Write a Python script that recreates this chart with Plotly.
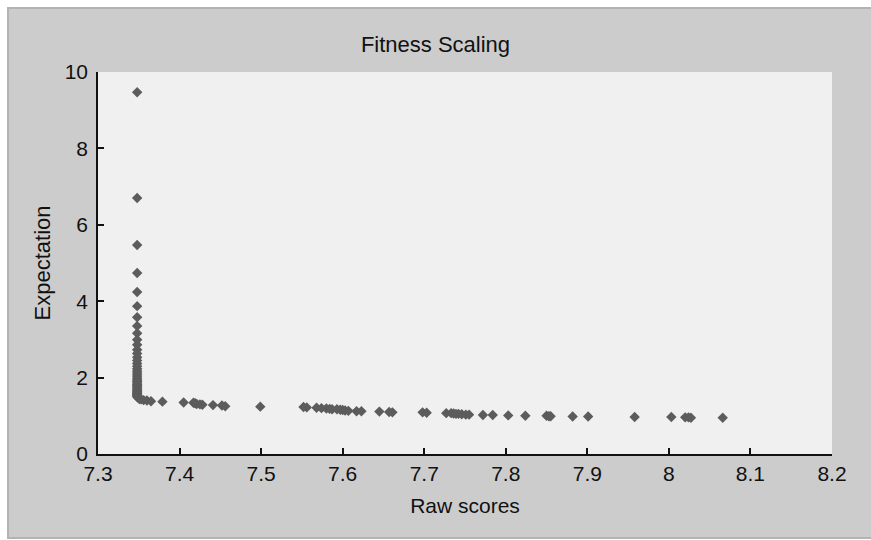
import plotly.graph_objects as go

raw_scores = [
    7.348, 7.348, 7.348, 7.348, 7.348, 7.348, 7.348, 7.348, 7.348, 7.348,
    7.348, 7.348, 7.348, 7.348, 7.348, 7.348, 7.348, 7.348, 7.348, 7.348,
    7.348, 7.348, 7.348, 7.348, 7.348, 7.348, 7.348, 7.348, 7.348, 7.348,
    7.348, 7.348, 7.348, 7.348, 7.348, 7.348, 7.348, 7.348, 7.348, 7.348,
    7.349, 7.350, 7.351, 7.353, 7.356, 7.360, 7.365,
    7.379, 7.405, 7.417, 7.419, 7.421, 7.425, 7.428, 7.441, 7.452, 7.456,
    7.499, 7.552, 7.556, 7.568, 7.574, 7.580, 7.584, 7.587, 7.593, 7.597,
    7.600, 7.603, 7.607, 7.617, 7.623, 7.645, 7.657, 7.661, 7.698, 7.703,
    7.727, 7.733, 7.736, 7.739, 7.742, 7.746, 7.751, 7.755, 7.772, 7.784,
    7.803, 7.824, 7.850, 7.853, 7.855, 7.882, 7.901, 7.958, 8.003, 8.020,
    8.024, 8.027, 8.066,
]

expectation = [
    9.47, 6.70, 5.47, 4.74, 4.24, 3.87, 3.58, 3.35, 3.16, 2.99,
    2.86, 2.73, 2.63, 2.53, 2.45, 2.37, 2.30, 2.23, 2.17, 2.12,
    2.07, 2.02, 1.97, 1.93, 1.89, 1.86, 1.82, 1.79, 1.76, 1.73,
    1.70, 1.67, 1.65, 1.62, 1.60, 1.58, 1.56, 1.54, 1.52, 1.50,
    1.48, 1.46, 1.44, 1.43, 1.41, 1.40, 1.38,
    1.37, 1.35, 1.34, 1.33, 1.31, 1.30, 1.29, 1.28, 1.27, 1.25,
    1.24, 1.23, 1.22, 1.21, 1.20, 1.19, 1.18, 1.17, 1.17, 1.16,
    1.15, 1.14, 1.13, 1.12, 1.12, 1.11, 1.10, 1.09, 1.09, 1.08,
    1.07, 1.07, 1.06, 1.05, 1.05, 1.04, 1.03, 1.03, 1.02, 1.02,
    1.01, 1.00, 1.00, 0.99, 0.99, 0.98, 0.98, 0.97, 0.97, 0.96,
    0.96, 0.95, 0.95,
]

x_ticks = [7.3, 7.4, 7.5, 7.6, 7.7, 7.8, 7.9, 8.0, 8.1, 8.2]
x_tick_labels = ["7.3", "7.4", "7.5", "7.6", "7.7", "7.8", "7.9", "8", "8.1", "8.2"]
y_ticks = [0, 2, 4, 6, 8, 10]
y_tick_labels = ["0", "2", "4", "6", "8", "10"]

W, H = 871, 540
L, R, T, B = 98, 39, 72, 86
PW, PH = W - L - R, H - T - B


def px(x):
    return (x - L) / PW


def py(y):
    return (H - B - y) / PH


FONT = "Liberation Sans, Arial, sans-serif"

fig = go.Figure()
fig.add_trace(go.Scatter(
    x=raw_scores, y=expectation, mode="markers",
    marker=dict(symbol="diamond", size=8, color="#5c5c5c", line=dict(width=0)),
    showlegend=False, hoverinfo="x+y",
))

shapes = [
    dict(type="rect", xref="paper", yref="paper", x0=px(-5), x1=px(W + 5), y0=py(7), y1=py(-5),
         fillcolor="white", line=dict(width=0), layer="above"),
    dict(type="rect", xref="paper", yref="paper", x0=px(-5), x1=px(7), y0=py(H + 5), y1=py(-5),
         fillcolor="white", line=dict(width=0), layer="above"),
    dict(type="rect", xref="paper", yref="paper", x0=px(-5), x1=px(W + 5), y0=py(H + 5), y1=py(539),
         fillcolor="white", line=dict(width=0), layer="above"),
    dict(type="line", xref="paper", yref="paper", x0=px(7), x1=px(W + 5), y0=py(8), y1=py(8),
         line=dict(color="#b3b3b3", width=2), layer="above"),
    dict(type="line", xref="paper", yref="paper", x0=px(8), x1=px(8), y0=py(8), y1=py(538),
         line=dict(color="#b3b3b3", width=2), layer="above"),
    dict(type="line", xref="paper", yref="paper", x0=px(7), x1=px(W + 5), y0=py(538), y1=py(538),
         line=dict(color="#b3b3b3", width=2), layer="above"),
]

fig.update_layout(
    width=W, height=H,
    margin=dict(l=L, r=R, t=T, b=B, pad=0),
    paper_bgcolor="#cccccc",
    plot_bgcolor="#f0f0f0",
    font=dict(family=FONT, color="#111111", size=21),
    title=dict(text="Fitness Scaling", x=px(465), xanchor="center", y=1 - 44 / H, yanchor="middle",
               font=dict(size=22, family=FONT, color="#111111")),
    shapes=shapes,
    xaxis=dict(
        range=[7.3, 8.2], tickvals=x_ticks, ticktext=x_tick_labels,
        showgrid=False, zeroline=False, showline=True, linecolor="#111111", linewidth=1.5,
        ticks="inside", ticklen=6, tickwidth=1.5, tickcolor="#111111", mirror=False,
        tickfont=dict(size=21),
        title=dict(text="Raw scores", font=dict(size=21), standoff=14),
    ),
    yaxis=dict(
        range=[0, 10], tickvals=y_ticks, ticktext=y_tick_labels,
        showgrid=False, zeroline=False, showline=True, linecolor="#111111", linewidth=1.5,
        ticks="inside", ticklen=6, tickwidth=1.5, tickcolor="#111111", mirror=False,
        tickfont=dict(size=21), ticklabelstandoff=4,
        title=dict(text="Expectation", font=dict(size=22), standoff=8),
    ),
)

fig.write_html(
    "out.html",
    config={"displayModeBar": False},
    post_script="document.body.style.margin='0';document.documentElement.style.overflow='hidden';document.body.style.overflow='hidden';",
)
